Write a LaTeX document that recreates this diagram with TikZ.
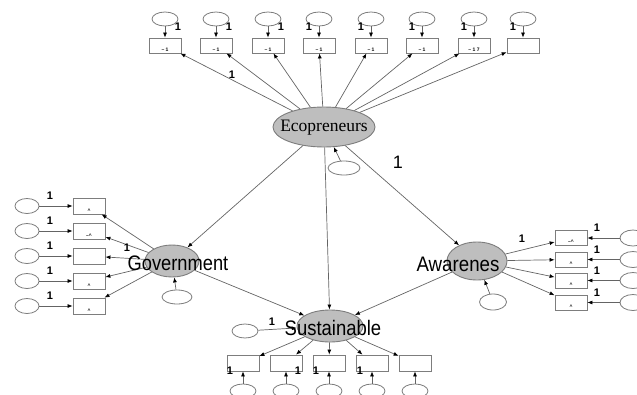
\documentclass[tikz,border=0pt]{standalone}
\usepackage{fontspec}
\setmainfont{Liberation Serif}
\setsansfont{Liberation Sans}
\usetikzlibrary{arrows.meta,shapes.geometric}
\definecolor{lc}{RGB}{100,100,100}
\definecolor{bc}{RGB}{125,125,125}
\definecolor{fillg}{RGB}{190,190,190}
\begin{document}
\begin{tikzpicture}[x=1pt,y=-1pt,
 obs/.style={draw=bc,line width=0.8pt,minimum width=32pt,minimum height=15pt,inner sep=0pt,fill=white},
 err/.style={ellipse,draw=bc,line width=0.8pt,minimum width=26pt,minimum height=14pt,inner sep=0pt,fill=white},
 lat/.style={ellipse,draw=bc,line width=0.9pt,fill=fillg,inner sep=0pt},
 arr/.style={draw=lc,line width=0.7pt,-{Latex[length=5pt,width=4pt,color=black]}},
 one/.style={font=\sffamily\bfseries\fontsize{11}{11}\selectfont,inner sep=0pt},
 frag/.style={font=\sffamily\bfseries\fontsize{5}{5}\selectfont,inner sep=0pt},
 big/.style={font=\sffamily\fontsize{21}{21}\selectfont,inner sep=0pt}]
\useasboundingbox (0,0) rectangle (637,394);

% latent variables
\node[lat,minimum width=102pt,minimum height=40pt] (eco) at (324,127) {};
\node[lat,minimum width=54pt,minimum height=32pt] (gov) at (172,261) {};
\node[lat,minimum width=60pt,minimum height=38pt] (aw) at (477,261) {};
\node[lat,minimum width=66pt,minimum height=32pt] (sus) at (330,326) {};

% error terms of latents
\node[err,minimum width=32pt] (eeco) at (344,168) {};
\node[err,minimum width=30pt] (egov) at (177,297) {};
\node[err,minimum width=27pt,minimum height=16pt] (eaw) at (493,302) {};
\node[err] (esus) at (245,331) {};
\draw[arr] (eeco) -- (eco);
\draw[arr] (egov) -- (gov);
\draw[arr] (eaw) -- (aw);
\draw[arr] (esus) -- (sus);

% top indicators
\foreach \i/\x in {1/165,2/216,3/268,4/319,5/371,6/422,7/474,8/523}{
  \node[obs] (t\i) at (\x,45.5) {};
  \node[err] (et\i) at (\x,19) {};
  \draw[arr] (et\i) -- (t\i);
  \draw[arr] (eco) -- (t\i);
}
\foreach \i in {1,...,3}{\node[one] (ot\i) at ([xshift=13pt,yshift=11pt]t\i.north) {1};}
\foreach \i in {4,...,8}{\node[one] (ot\i) at ([xshift=-10pt,yshift=11pt]t\i.north) {1};}
\foreach \i in {1,...,6}{\node[frag] (ft\i) at ([yshift=4pt]t\i.south) {– 1};}
\node[frag] (ft7) at ([yshift=4pt]t7.south) {– 1 7};

% left indicators (Government)
\foreach \i/\y in {1/206,2/231,3/256,4/281,5/306}{
  \node[obs,minimum height=16pt] (l\i) at (89,\y) {};
  \node[err,minimum width=24pt,minimum height=15pt] (el\i) at (27,\y) {};
  \draw[arr] (el\i) -- (l\i);
  \draw[arr] (gov) -- (l\i);
  \node[one] (ol\i) at (50,\y-10) {1};
}
\foreach \i in {1,4,5}{\node[frag] (fl\i) at ([yshift=4pt]l\i.south) {\textasciicircum};}
\node[frag] (fl2) at ([yshift=4pt]l2.south) {–\textasciicircum};

% right indicators (Awarenes)
\foreach \i/\y in {1/238,2/259.5,3/280.5,4/302.5}{
  \node[obs] (r\i) at (571,\y) {};
  \node[err,minimum width=26pt,minimum height=16pt] (er\i) at (633,\y) {};
  \draw[arr] (er\i) -- (r\i);
  \draw[arr] (aw) -- (r\i);
  \node[one] (or\i) at (597,\y-10) {1};
}
\node[frag] (fr1) at ([yshift=4pt]r1.south) {–\textasciicircum};
\foreach \i in {2,3,4}{\node[frag] (fr\i) at ([yshift=4pt]r\i.south) {\textasciicircum};}

% bottom indicators (Sustainable)
\foreach \i/\x in {1/243,2/286,3/329,4/372,5/415}{
  \node[obs,minimum height=16pt] (b\i) at (\x,363) {};
  \node[err] (eb\i) at (\x,391) {};
  \draw[arr] (eb\i) -- (b\i);
  \draw[arr] (sus) -- (b\i);
}
\node[one] (ob1) at (230,371) {1};
\node[one] (ob2) at (298,371) {1};
\node[one] (ob3) at (316,371) {1};
\node[one] (ob4) at (360,371) {1};

% structural paths
\draw[arr] (eco) -- (gov);
\draw[arr] (eco) -- (sus);
\draw[arr] (eco) -- (aw);
\draw[arr] (gov) -- (sus);
\draw[arr] (aw) -- (sus);

% other labels
\node[one] (o1) at (232,75) {1};
\node[one] (o2) at (127,248) {1};
\node[one] (o3) at (522,239) {1};
\node[one] (o4) at (272,322) {1};
\node[font=\sffamily\fontsize{18}{18}\selectfont,inner sep=0pt] (o5) at (398,162) {1};

% latent texts
\node[font=\rmfamily\fontsize{17.5}{17.5}\selectfont,inner sep=0pt] (ecoT) at (324,128) {Ecopreneurs};
\node[big] (govT) at (178,263) {\scalebox{0.87}[1]{Government}};
\node[big] (awT) at (458,264) {\scalebox{0.89}[1]{Awarenes}};
\node[big] (susT) at (333,328) {\scalebox{0.88}[1]{Sustainable}};
\end{tikzpicture}
\end{document}
